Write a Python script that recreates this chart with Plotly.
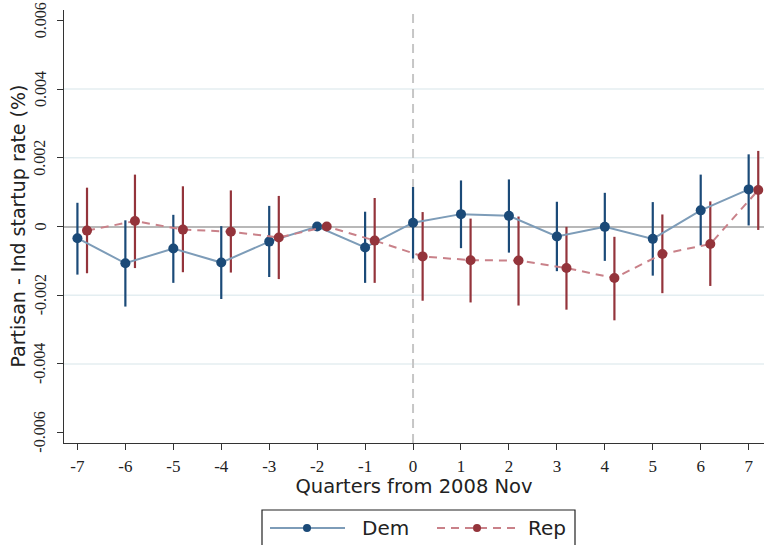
import plotly.graph_objects as go

quarters = [-7, -6, -5, -4, -3, -2, -1, 0, 1, 2, 3, 4, 5, 6, 7]
x_ticktext = ["-7", "-6", "-5", "-4", "-3", "-2", "-1", "0", "1", "2", "3", "4", "5", "6", "7"]
rep_offset = 0.2

dem_est = [-0.34, -1.07, -0.64, -1.05, -0.44, 0.0, -0.61, 0.11, 0.36, 0.31, -0.29, -0.01, -0.36, 0.47, 1.08]
dem_hi = [0.69, 0.18, 0.34, 0.01, 0.60, 0.0, 0.43, 1.15, 1.34, 1.37, 0.72, 0.98, 0.71, 1.51, 2.10]
dem_lo = [-1.40, -2.33, -1.64, -2.11, -1.47, 0.0, -1.64, -0.93, -0.63, -0.76, -1.30, -1.00, -1.43, -0.55, 0.03]

rep_est = [-0.12, 0.16, -0.09, -0.15, -0.32, 0.0, -0.41, -0.87, -0.98, -0.99, -1.21, -1.50, -0.80, -0.51, 1.06]
rep_hi = [1.13, 1.51, 1.17, 1.05, 0.89, 0.0, 0.83, 0.42, 0.23, 0.29, -0.01, -0.30, 0.35, 0.73, 2.20]
rep_lo = [-1.36, -1.21, -1.33, -1.34, -1.53, 0.0, -1.64, -2.16, -2.21, -2.30, -2.42, -2.73, -1.94, -1.73, -0.10]

series_names = ["Dem", "Rep"]
x_title = "Quarters from 2008 Nov"
y_title = "Partisan - Ind startup rate (%)"

scale = 1e-3
y_tickvals = [-0.006, -0.004, -0.002, 0, 0.002, 0.004, 0.006]
y_ticktext = ["-0.006", "-0.004", "-0.002", "0", "0.002", "0.004", "0.006"]
grid_values = [-0.004, -0.002, 0.002, 0.004]

DEM_MARK = "#1b4a78"
DEM_LINE = "#7d9cb8"
REP_MARK = "#94343b"
REP_LINE = "#c98189"
REP_DASH = "8px,6px"
TEXT = "#222222"

# layout geometry (pixels)
W, H = 764, 545
ML, MR, MT, MB = 64, 0, 10, 102
PW, PH = W - ML - MR, H - MT - MB


def px_x(p):
    return (p - ML) / PW


def px_y(p):
    return (H - MB - p) / PH


def scaled(v):
    return [x * scale for x in v]


de, dh, dl = scaled(dem_est), scaled(dem_hi), scaled(dem_lo)
re_, rh, rl = scaled(rep_est), scaled(rep_hi), scaled(rep_lo)
rep_x = [q + rep_offset for q in quarters]

fig = go.Figure()

fig.add_trace(go.Scatter(
    x=quarters, y=de, mode="markers", marker=dict(size=1, color="rgba(0,0,0,0)"),
    error_y=dict(type="data", symmetric=False,
                 array=[h - e for h, e in zip(dh, de)],
                 arrayminus=[e - l for e, l in zip(de, dl)],
                 color=DEM_MARK, thickness=2.2, width=0),
    showlegend=False, hoverinfo="skip"))
fig.add_trace(go.Scatter(
    x=rep_x, y=re_, mode="markers", marker=dict(size=1, color="rgba(0,0,0,0)"),
    error_y=dict(type="data", symmetric=False,
                 array=[h - e for h, e in zip(rh, re_)],
                 arrayminus=[e - l for e, l in zip(re_, rl)],
                 color=REP_MARK, thickness=2.2, width=0),
    showlegend=False, hoverinfo="skip"))

fig.add_trace(go.Scatter(
    x=quarters, y=de, mode="lines+markers", name=series_names[0],
    line=dict(color=DEM_LINE, width=2),
    marker=dict(color=DEM_MARK, size=10), showlegend=False))
fig.add_trace(go.Scatter(
    x=rep_x, y=re_, mode="lines+markers", name=series_names[1],
    line=dict(color=REP_LINE, width=2, dash=REP_DASH),
    marker=dict(color=REP_MARK, size=10), showlegend=False))

shapes = []
for g in grid_values:
    shapes.append(dict(type="line", xref="paper", yref="y", x0=0, x1=1, y0=g, y1=g,
                       line=dict(color="#e4eef1", width=1.5), layer="below"))
shapes.append(dict(type="line", xref="x", yref="paper", x0=0, x1=0, y0=0, y1=1,
                   line=dict(color="#c6c6c6", width=2, dash="9px,6px"), layer="below"))

annotations = []
# rotated y tick labels, centred on their ticks
for v, t in zip(y_tickvals, y_ticktext):
    annotations.append(dict(text=t, xref="paper", yref="y", x=px_x(40), y=v,
                            xanchor="center", yanchor="middle", textangle=-90,
                            showarrow=False,
                            font=dict(family="Liberation Serif", size=16, color=TEXT)))
# y axis title
annotations.append(dict(text=y_title, xref="paper", yref="paper", x=px_x(17), y=0.5,
                        xanchor="center", yanchor="middle", textangle=-90, showarrow=False,
                        font=dict(family="DejaVu Sans", size=19, color=TEXT)))

# custom legend (box, sample lines, markers, labels)
leg_y = 528
shapes.append(dict(type="rect", xref="paper", yref="paper",
                   x0=px_x(262), x1=px_x(575), y0=px_y(510), y1=px_y(556),
                   line=dict(color=TEXT, width=1.2), fillcolor="white"))
legend_items = [
    (series_names[0], DEM_LINE, DEM_MARK, "solid", 270, 345, 307, 360),
    (series_names[1], REP_LINE, REP_MARK, REP_DASH, 437, 515, 477, 526),
]
for name, lc, mc, dash, x0, x1, xm, xt in legend_items:
    shapes.append(dict(type="line", xref="paper", yref="paper",
                       x0=px_x(x0), x1=px_x(x1), y0=px_y(leg_y), y1=px_y(leg_y),
                       line=dict(color=lc, width=2, dash=dash)))
    shapes.append(dict(type="circle", xref="paper", yref="paper",
                       xsizemode="pixel", ysizemode="pixel",
                       xanchor=px_x(xm), yanchor=px_y(leg_y),
                       x0=-4, x1=4, y0=-4, y1=4,
                       line=dict(color=mc, width=0), fillcolor=mc))
    annotations.append(dict(text=name, xref="paper", yref="paper", x=px_x(xt), y=px_y(leg_y),
                            xanchor="left", yanchor="middle", showarrow=False,
                            font=dict(family="DejaVu Sans", size=20, color=TEXT)))

fig.update_layout(
    width=W, height=H,
    margin=dict(l=ML, r=MR, t=MT, b=MB),
    paper_bgcolor="white", plot_bgcolor="white",
    shapes=shapes, annotations=annotations,
    font=dict(family="DejaVu Sans", color=TEXT),
    showlegend=False,
    xaxis=dict(range=[-7.28, 7.32], tickvals=quarters, ticktext=x_ticktext,
               ticks="outside", ticklen=6, ticklabelstandoff=1,
               tickcolor="#333333", showline=True, linecolor="#333333", linewidth=1.2,
               showgrid=False, zeroline=False,
               tickfont=dict(family="Liberation Serif", size=17, color=TEXT),
               title=dict(text=x_title, standoff=2,
                          font=dict(family="DejaVu Sans", size=19.5, color=TEXT))),
    yaxis=dict(range=[-0.0063, 0.0063], tickvals=y_tickvals, showticklabels=False,
               ticks="outside", ticklen=6, tickcolor="#333333",
               showline=True, linecolor="#333333", linewidth=1.2,
               showgrid=False, zeroline=True, zerolinecolor="#b8b8b8", zerolinewidth=1.5),
)

fig.write_html("out.html")
